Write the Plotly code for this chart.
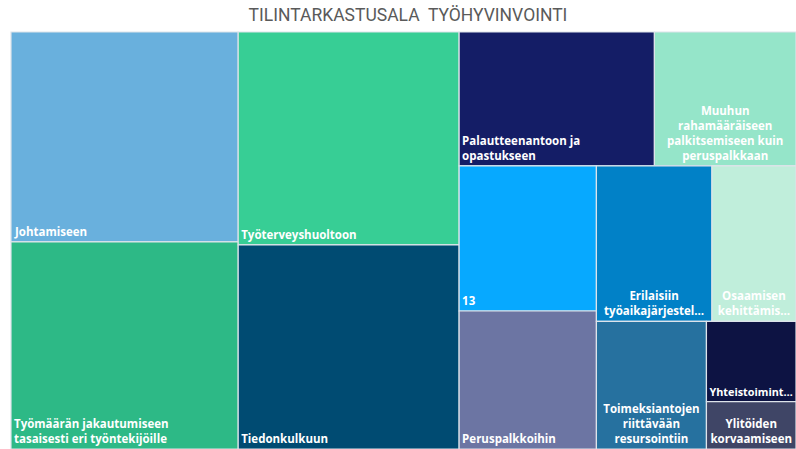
import plotly.graph_objects as go

# Vastausten jakauma (arvioitu kuvasta)
labels = ["Johtamiseen", "Työmäärän jakautumiseen tasaisesti eri työntekijöille",
          "Työterveyshuoltoon", "Tiedonkulkuun", "Palautteenantoon ja opastukseen",
          "Muuhun rahamääräiseen palkitsemiseen kuin peruspalkkaan", "13",
          "Peruspalkkoihin", "Erilaisiin työaikajärjestelyihin", "Osaamisen kehittämiseen",
          "Toimeksiantojen riittävään resursointiin", "Yhteistoimintaan",
          "Ylitöiden korvaamiseen"]
values = [14.6, 14.4, 14.4, 13.8, 8.0, 5.8, 6.1, 5.8, 5.5, 4.0, 4.3, 2.2, 1.3]
shown = ["Johtamiseen", "Työmäärän jakautumiseen<br>tasaisesti eri työntekijöille",
         "Työterveyshuoltoon", "Tiedonkulkuun", "Palautteenantoon ja<br>opastukseen",
         "Muuhun<br>rahamääräiseen<br>palkitsemiseen kuin<br>peruspalkkaan", "13",
         "Peruspalkkoihin", "Erilaisiin<br>työaikajärjestel…", "Osaamisen<br>kehittämis…",
         "Toimeksiantojen<br>riittävään<br>resursointiin", "Yhteistoimint…",
         "Ylitöiden<br>korvaamiseen"]
centered = [False, False, False, False, False, True, False, False, True, True, True, False, True]
colors = ["#69B0DD", "#2DB986", "#37CE95", "#004B72", "#141D66", "#95E5C9", "#07A9FF",
          "#6C75A3", "#0181C7", "#C0EEDB", "#26719F", "#0D1343", "#3F4566"]

left_text = [("" if c else t) for t, c in zip(shown, centered)]
center_text = [(t if c else "") for t, c in zip(shown, centered)]

common = dict(
    labels=labels,
    parents=[""] * len(labels),
    values=values,
    texttemplate="%{text}",
    sort=False,
    tiling=dict(squarifyratio=1, pad=0),
    textfont=dict(family="Open Sans", size=11.5, color="white", weight="bold"),
    pathbar=dict(visible=False),
    domain=dict(x=[0, 1], y=[0, 1]),
)

fig = go.Figure()
fig.add_trace(go.Treemap(
    text=left_text,
    textposition="bottom left",
    marker=dict(colors=colors, line=dict(color="#DDE3EA", width=1.2), pad=dict(t=0, l=0, r=0, b=0)),
    hoverinfo="label+value",
    **common,
))
fig.add_trace(go.Treemap(
    text=center_text,
    textposition="bottom center",
    marker=dict(colors=["rgba(0,0,0,0)"] * len(labels), line=dict(width=0),
                pad=dict(t=0, l=0, r=0, b=0)),
    hoverinfo="skip",
    **common,
))

fig.update_layout(
    title=dict(text="TILINTARKASTUSALA  TYÖHYVINVOINTI", x=408 / 796, y=1 - 15 / 449,
               xanchor="center", yanchor="middle",
               font=dict(family="Roboto", size=17.5, color="#5A5A5A")),
    width=796, height=449,
    margin=dict(l=11, r=0, t=32, b=0),
    paper_bgcolor="white",
)

fig.write_html("out.html", config={"displayModeBar": False},
               post_script="document.body.style.margin='0';document.body.style.overflow='hidden';")
